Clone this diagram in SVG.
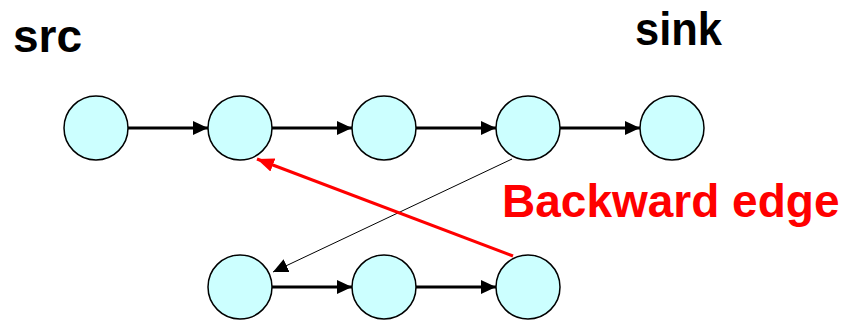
<svg xmlns="http://www.w3.org/2000/svg" width="850" height="320" viewBox="0 0 850 320">
  <style>
    .node { fill: #ccffff; stroke: #000; stroke-width: 1.5; }
    .edge { stroke: #000; stroke-width: 3; fill: none; }
    .thin { stroke: #000; stroke-width: 1; fill: none; }
    .back { stroke: #ff0000; stroke-width: 3; fill: none; }
    .lbl { font-family: "Liberation Sans", Arial, sans-serif; font-weight: bold; font-size: 46px; }
  </style>
  <defs>
    <marker id="ah" markerUnits="userSpaceOnUse" markerWidth="15" markerHeight="14" refX="15" refY="7" orient="auto">
      <path d="M0,0 L15,7 L0,14 z" fill="#000"/>
    </marker>
    <marker id="ahRed" markerUnits="userSpaceOnUse" markerWidth="17" markerHeight="14" refX="17" refY="7" orient="auto">
      <path d="M0,0 L17,7 L0,14 z" fill="#ff0000"/>
    </marker>
  </defs>

  <rect width="850" height="320" fill="#fff"/>

  <g id="connectors">
    <line class="edge" x1="128" y1="128" x2="208" y2="128" marker-end="url(#ah)"/>
    <line class="edge" x1="272" y1="128" x2="352" y2="128" marker-end="url(#ah)"/>
    <line class="edge" x1="416" y1="128" x2="496" y2="128" marker-end="url(#ah)"/>
    <line class="edge" x1="560" y1="128" x2="640" y2="128" marker-end="url(#ah)"/>
    <line class="edge" x1="272" y1="287" x2="352" y2="287" marker-end="url(#ah)"/>
    <line class="edge" x1="416" y1="287" x2="496" y2="287" marker-end="url(#ah)"/>
    <line class="thin" x1="512" y1="159" x2="273" y2="272" marker-end="url(#ah)"/>
    <line class="back" x1="513" y1="256" x2="257" y2="159" marker-end="url(#ahRed)"/>
  </g>

  <g id="n1"><circle class="node" cx="96" cy="128" r="32"/></g>
  <g id="n2"><circle class="node" cx="240" cy="128" r="32"/></g>
  <g id="n3"><circle class="node" cx="384" cy="128" r="32"/></g>
  <g id="n4"><circle class="node" cx="528" cy="128" r="32"/></g>
  <g id="n5"><circle class="node" cx="672" cy="128" r="32"/></g>
  <g id="n6"><circle class="node" cx="240" cy="287" r="32"/></g>
  <g id="n7"><circle class="node" cx="384" cy="287" r="32"/></g>
  <g id="n8"><circle class="node" cx="528" cy="287" r="32"/></g>

  <g id="labels">
    <text class="lbl" x="13" y="52">src</text>
    <text class="lbl" x="635" y="45" textLength="87" lengthAdjust="spacingAndGlyphs">sink</text>
    <text class="lbl" x="502" y="217" fill="#ff0000">Backward edge</text>
  </g>
</svg>
